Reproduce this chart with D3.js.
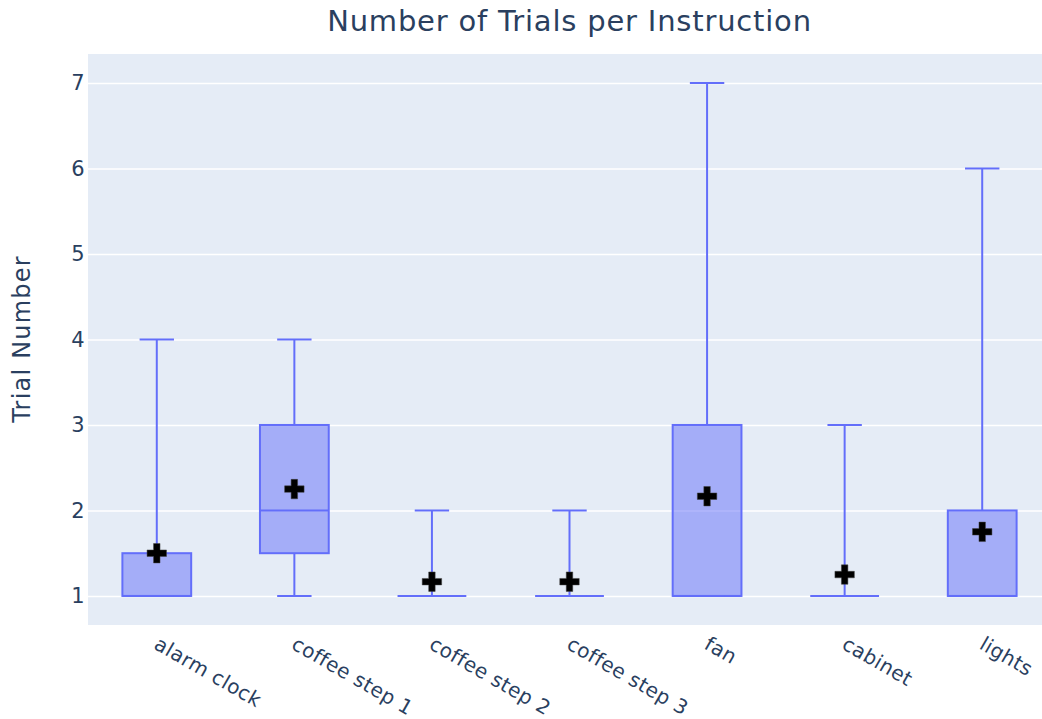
<!DOCTYPE html>
<html>
<head>
<meta charset="utf-8">
<script src="https://cdn.jsdelivr.net/npm/d3@7"></script>
<style>
  body { margin: 0; background: #fff; }
  text { font-family: "DejaVu Sans", Verdana, sans-serif; fill: #2a3f5f; }
</style>
</head>
<body>
<div id="chart"></div>
<script>
// box statistics
const categories = ["alarm clock", "coffee step 1", "coffee step 2", "coffee step 3", "fan", "cabinet", "lights"];
const minVals = [1, 1, 1, 1, 1, 1, 1];
const q1Vals = [1, 1.5, 1, 1, 1, 1, 1];
const medianVals = [1, 2, 1, 1, 1, 1, 1];
const q3Vals = [1.5, 3, 1, 1, 3, 1, 2];
const maxVals = [4, 4, 2, 2, 7, 3, 6];
const meanVals = [1.5, 2.25, 1.1667, 1.1667, 2.1667, 1.25, 1.75];
const yTicks = [1, 2, 3, 4, 5, 6, 7];

var w = 1042, h = 719;
// the plot area runs a bit past the right edge of the picture
var margin = { top: 54, right: -9, bottom: 94, left: 88 };
var plotW = w - margin.left - margin.right;

var svg = d3.select("#chart")
    .append("svg")
    .attr("width", w)
    .attr("height", h);

var x = d3.scaleBand()
    .domain(categories)
    .range([margin.left, w - margin.right])
    .padding(0);

var y = d3.scaleLinear()
    .domain([0.66, 7.34])
    .range([h - margin.bottom, margin.top]);

// plot background
svg.append("rect")
    .attr("x", margin.left)
    .attr("y", margin.top)
    .attr("width", plotW)
    .attr("height", h - margin.top - margin.bottom)
    .attr("fill", "#E5ECF6");

// gridlines + y tick labels
var yAxis = d3.axisLeft(y)
    .tickValues(yTicks)
    .tickSize(-plotW)
    .tickPadding(3)
    .tickFormat(d3.format("d"));

svg.append("g")
    .attr("transform", `translate(${margin.left},0)`)
    .call(yAxis)
    .call(g => g.select(".domain").remove())
    .call(g => g.selectAll(".tick line").attr("stroke", "#fff").attr("stroke-width", 1.6))
    .call(g => g.selectAll(".tick text")
        .style("font-size", "21px")
        .style("letter-spacing", "0.5px")
        .attr("fill", "#2a3f5f"));

// x tick labels, rotated
svg.append("g")
    .selectAll("text")
    .data(categories)
    .join("text")
    .attr("text-anchor", "start")
    .attr("transform", d => `translate(${x(d) + x.bandwidth() / 2 - 4},${h - margin.bottom + 23}) rotate(30)`)
    .style("font-size", "20px")
    .style("letter-spacing", "0.4px")
    .text(d => d);

// boxes
var boxW = x.bandwidth() * 0.5;
var capW = boxW * 0.5;
var blue = "#636efa";

var boxes = svg.append("g")
    .selectAll("g")
    .data(categories)
    .join("g")
    .attr("transform", d => `translate(${x(d) + x.bandwidth() / 2},0)`);

// whiskers
boxes.append("line")
    .attr("y1", (d, i) => y(maxVals[i]))
    .attr("y2", (d, i) => y(q3Vals[i]))
    .attr("stroke", blue).attr("stroke-width", 2);
boxes.append("line")
    .attr("y1", (d, i) => y(minVals[i]))
    .attr("y2", (d, i) => y(q1Vals[i]))
    .attr("stroke", blue).attr("stroke-width", 2);

boxes.append("rect")
    .attr("x", -boxW / 2)
    .attr("width", boxW)
    .attr("y", (d, i) => y(q3Vals[i]))
    .attr("height", (d, i) => y(q1Vals[i]) - y(q3Vals[i]))
    .attr("fill", "rgba(99,110,250,0.5)")
    .attr("stroke", blue)
    .attr("stroke-width", 2);

// median
boxes.append("line")
    .attr("x1", -boxW / 2).attr("x2", boxW / 2)
    .attr("y1", (d, i) => y(medianVals[i]))
    .attr("y2", (d, i) => y(medianVals[i]))
    .attr("stroke", blue).attr("stroke-width", 2);

// caps
[maxVals, minVals].forEach(vals => {
    boxes.append("line")
        .attr("x1", -capW / 2).attr("x2", capW / 2)
        .attr("y1", (d, i) => y(vals[i]))
        .attr("y2", (d, i) => y(vals[i]))
        .attr("stroke", blue).attr("stroke-width", 2);
});

// mean markers
boxes.append("path")
    .attr("transform", (d, i) => `translate(0,${y(meanVals[i])})`)
    .attr("d", d3.symbol().type(d3.symbolCross).size(210))
    .attr("fill", "#000")
    .attr("stroke", "#444")
    .attr("stroke-width", 0.5);

// titles
svg.append("text")
    .attr("x", margin.left + plotW / 2)
    .attr("y", 31)
    .attr("text-anchor", "middle")
    .style("font-size", "29px")
    .style("letter-spacing", "0.8px")
    .text("Number of Trials per Instruction");

svg.append("text")
    .attr("transform", `translate(30,339) rotate(-90)`)
    .attr("text-anchor", "middle")
    .style("font-size", "24px")
    .style("letter-spacing", "1.2px")
    .text("Trial Number");
</script>
</body>
</html>
